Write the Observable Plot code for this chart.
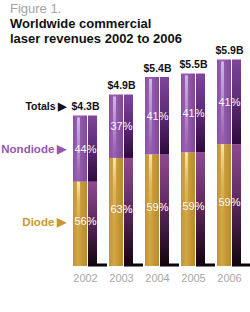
<!DOCTYPE html>
<html>
<head>
<meta charset="utf-8">
<script src="https://cdn.jsdelivr.net/npm/d3@7"></script>
<script src="https://cdn.jsdelivr.net/npm/@observablehq/plot@0.6"></script>
<style>
  body { margin: 0; background: #fff; font-family: "Liberation Sans", Arial, sans-serif; }
  #head { padding: 1px 0 0 10px; height: 46px; line-height: 15px; font-size: 13px; }
  #head .fig { color: #a3a3a3; }
  #head .title { color: #111; font-weight: bold; }
  svg { display: block; overflow: visible; }
</style>
</head>
<body>
<div id="head">
  <div class="fig">Figure 1.</div>
  <div class="title">Worldwide commercial</div>
  <div class="title">laser revenues 2002 to 2006</div>
</div>
<div id="chart"></div>
<script>
const years = ["2002", "2003", "2004", "2005", "2006"];
const totals = [4.3, 4.9, 5.4, 5.5, 5.9];
const totalLabels = ["$4.3B", "$4.9B", "$5.4B", "$5.5B", "$5.9B"];
const diodePct = [56, 63, 59, 59, 59];
const nondiodePct = [44, 37, 41, 41, 41];
const seriesNames = ["Diode", "Nondiode", "Totals"];

const diodeRows = years.map((yr, i) => ({
  year: yr, y1: 0, y2: totals[i] * diodePct[i] / 100, label: diodePct[i] + "%"
}));
const nondiodeRows = years.map((yr, i) => ({
  year: yr, y1: totals[i] * diodePct[i] / 100, y2: totals[i], label: nondiodePct[i] + "%"
}));
const totalRows = years.map((yr, i) => ({ year: yr, total: totals[i], label: totalLabels[i] }));

const font = "Liberation Sans, Arial, sans-serif";

const plot = Plot.plot({
  width: 250,
  height: 265,
  marginTop: 9,
  marginBottom: 46,
  marginLeft: 71,
  marginRight: 0,
  style: { fontFamily: font, overflow: "visible" },
  x: { type: "band", domain: years, range: [71, 252.8], paddingInner: 0.046, paddingOuter: 0, axis: null },
  y: { domain: [0, 6], axis: null },
  marks: [
    // floor shadow
    Plot.tickY(totalRows, { x: "year", y: 0, dy: -1.5, stroke: "#0b0208", strokeWidth: 3, insetLeft: 15 }),
    // side faces
    Plot.barY(diodeRows, { x: "year", y1: "y1", y2: "y2", insetLeft: 15, insetRight: 10, fill: "url(#sideD)" }),
    Plot.barY(nondiodeRows, { x: "year", y1: "y1", y2: "y2", insetLeft: 15, insetRight: 10, fill: "url(#sideN)" }),
    // front faces
    Plot.barY(diodeRows, { x: "year", y1: "y1", y2: "y2", insetRight: 20, fill: "url(#frontD)" }),
    Plot.barY(nondiodeRows, { x: "year", y1: "y1", y2: "y2", insetRight: 20, fill: "url(#frontN)" }),
    // highlight stripes
    Plot.barY(diodeRows, { x: "year", y1: "y1", y2: "y2", insetLeft: 4, insetRight: 27, fill: "url(#hiD)" }),
    Plot.barY(nondiodeRows, { x: "year", y1: "y1", y2: "y2", insetLeft: 4, insetRight: 27, insetTop: 2, insetBottom: 6, fill: "url(#hiN)" }),
    // percent labels
    Plot.text(diodeRows, { x: "year", y: d => (d.y1 + d.y2) / 2, text: "label", dx: -5, dy: -3, fill: "#fff", fontSize: 11, fontFamily: font, stroke: "#8a6a20", strokeWidth: 0.5, strokeOpacity: 0.35 }),
    Plot.text(nondiodeRows, { x: "year", y: d => (d.y1 + d.y2) / 2, text: "label", dx: -5, fill: "#fff", fontSize: 11, fontFamily: font, stroke: "#5a2a70", strokeWidth: 0.5, strokeOpacity: 0.35 }),
    // totals
    Plot.text(totalRows, { x: "year", y: "total", text: "label", dx: -5, dy: -9, fill: "#111", fontSize: 10.5, fontWeight: "bold", fontFamily: font }),
    // years
    Plot.text(totalRows, { x: "year", y: 0, text: "year", dx: -5, dy: 12, fill: "#a8a8a8", fontSize: 11, fontFamily: font }),
    // series labels on the left of 2002
    Plot.text([totalRows[0]], { x: "year", y: "total", text: () => seriesNames[2] + " \u25B6\uFE0E", dx: -24, dy: -9, textAnchor: "end", fill: "#111", fontSize: 10.5, fontWeight: "bold", fontFamily: font }),
    Plot.text([nondiodeRows[0]], { x: "year", y: d => (d.y1 + d.y2) / 2, text: () => seriesNames[1] + " \u25B6\uFE0E", dx: -24, textAnchor: "end", fill: "#9656b0", fontSize: 11.5, fontWeight: "bold", fontFamily: font }),
    Plot.text([diodeRows[0]], { x: "year", y: d => (d.y1 + d.y2) / 2, text: () => seriesNames[0] + " \u25B6\uFE0E", dx: -24, dy: -2, textAnchor: "end", fill: "#c8992e", fontSize: 11.5, fontWeight: "bold", fontFamily: font })
  ]
});

const ns = "http://www.w3.org/2000/svg";
const defs = document.createElementNS(ns, "defs");
defs.innerHTML = `
  <linearGradient id="sideD" x1="0" y1="0" x2="0" y2="1">
    <stop offset="0" stop-color="#8e4a90"/>
    <stop offset="0.45" stop-color="#5e2a62"/>
    <stop offset="1" stop-color="#12040f"/>
  </linearGradient>
  <linearGradient id="sideN" x1="0" y1="0" x2="0" y2="1">
    <stop offset="0" stop-color="#7e4699"/>
    <stop offset="0.5" stop-color="#5c2a74"/>
    <stop offset="1" stop-color="#2e0a3c"/>
  </linearGradient>
  <linearGradient id="frontD" x1="0" y1="0" x2="1" y2="0">
    <stop offset="0" stop-color="#c39431"/>
    <stop offset="0.35" stop-color="#d2a747"/>
    <stop offset="0.7" stop-color="#c49632"/>
    <stop offset="1" stop-color="#b98a2a"/>
  </linearGradient>
  <linearGradient id="frontN" x1="0" y1="0" x2="1" y2="0">
    <stop offset="0" stop-color="#8a4fa3"/>
    <stop offset="0.35" stop-color="#9a63b3"/>
    <stop offset="0.7" stop-color="#8d52a5"/>
    <stop offset="1" stop-color="#7f4698"/>
  </linearGradient>
  <linearGradient id="hiD" x1="0" y1="0" x2="0" y2="1">
    <stop offset="0" stop-color="#fff3d0" stop-opacity="0.85"/>
    <stop offset="0.3" stop-color="#f0d490" stop-opacity="0.35"/>
    <stop offset="0.6" stop-color="#f0d490" stop-opacity="0"/>
  </linearGradient>
  <linearGradient id="hiN" x1="0" y1="0" x2="0" y2="1">
    <stop offset="0" stop-color="#e6d2f0" stop-opacity="0.75"/>
    <stop offset="0.7" stop-color="#c8a4dc" stop-opacity="0.45"/>
    <stop offset="1" stop-color="#c8a4dc" stop-opacity="0"/>
  </linearGradient>`;
plot.insertBefore(defs, plot.firstChild);
document.getElementById("chart").appendChild(plot);
</script>
</body>
</html>
